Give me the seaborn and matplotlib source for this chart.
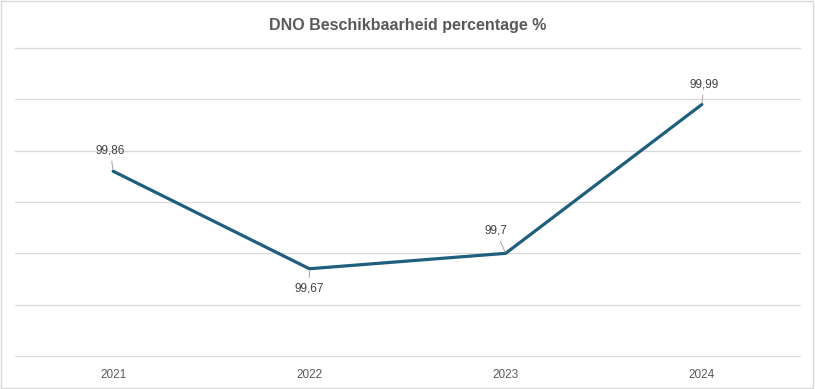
import matplotlib
matplotlib.use("Agg")
import matplotlib.pyplot as plt
import seaborn as sns
import pandas as pd
from matplotlib.patches import Rectangle

# data
years = ["2021", "2022", "2023", "2024"]
values = [99.86, 99.67, 99.70, 99.99]
labels = ["99,86", "99,67", "99,7", "99,99"]
# label offsets (points) from the point
offsets = [(-2, 15), (0, -14), (-7, 16.5), (1.5, 14.5)]

sns.set_style("white")
plt.rcParams["font.family"] = ["Liberation Sans Narrow", "Liberation Sans", "DejaVu Sans"]

df = pd.DataFrame({"year": years, "value": values})

fig = plt.figure(figsize=(8.15, 3.89), dpi=100)
ax = fig.add_axes([0.0184, 0.0848, 0.9632, 0.7918])

sns.lineplot(data=df, x="year", y="value", ax=ax, color="#1F5E7C",
             linewidth=2.3, sort=False)

ax.set_xlim(-0.5, 3.5)
ax.set_ylim(99.5, 100.1)
ax.set_yticks([99.5, 99.6, 99.7, 99.8, 99.9, 100.0, 100.1])
ax.set_yticklabels([])
ax.tick_params(axis="y", length=0)
ax.tick_params(axis="x", length=0, labelsize=8.5, labelcolor="#595959", pad=9)
for yv in ax.get_yticks():
    ax.axhline(yv, color="#D9D9D9", linewidth=0.9, clip_on=False, zorder=0)
for s in ax.spines.values():
    s.set_visible(False)
ax.set_xlabel("")
ax.set_ylabel("")

for i, (v, lab, off) in enumerate(zip(values, labels, offsets)):
    ax.annotate(lab, xy=(i, v), xytext=off, textcoords="offset points",
                ha="center", va="center", fontsize=8.5, color="#404040",
                arrowprops=dict(arrowstyle="-", color="#A6A6A6", lw=0.7,
                                shrinkA=1, shrinkB=1))

fig.text(0.5, 0.935, "DNO Beschikbaarheid percentage %", ha="center",
         va="center", fontsize=11.5, fontweight="bold", color="#595959")

# light border around the chart area
fig.patches.append(Rectangle((0.001, 0.002), 0.997, 0.995, transform=fig.transFigure,
                             fill=False, edgecolor="#D9D9D9", linewidth=1))

fig.savefig("out.png", dpi=100)
